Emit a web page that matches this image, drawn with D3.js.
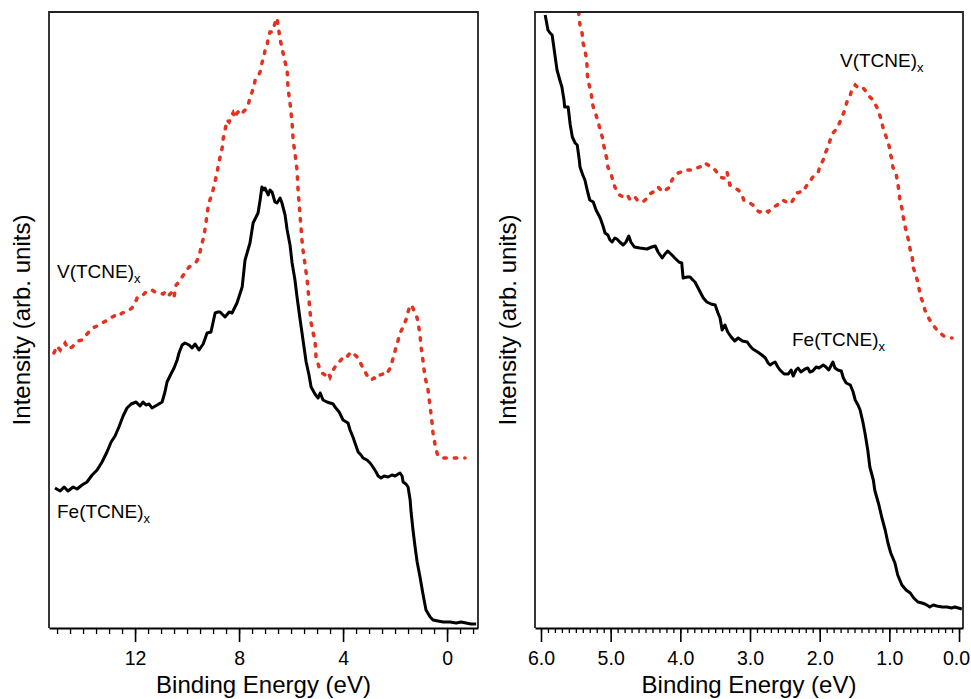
<!DOCTYPE html>
<html>
<head>
<meta charset="utf-8">
<script src="https://cdn.jsdelivr.net/npm/d3@7"></script>
<style>
  body { margin: 0; background: #fff; }
  svg text { font-family: "Liberation Sans", Arial, sans-serif; fill: #000; }
</style>
</head>
<body>
<div id="chart"></div>
<script>
// ---- data: [binding energy (eV), intensity (arb. units)] ----

// left panel, wide scan
var feWide = [[15.08,140],[14.88,137],[14.73,141],[14.58,137],[14.38,141],[14.23,139],[14.04,143],[13.85,146],[13.65,153],[13.46,158],[13.27,166],[13.08,176],[12.92,186],[12.77,192],[12.62,201],[12.46,212],[12.31,220],[12.15,224],[11.96,226],[11.81,222],[11.69,226],[11.58,223],[11.46,224],[11.35,220],[11.15,223],[10.96,226],[10.85,236],[10.77,246],[10.62,254],[10.5,260],[10.38,268],[10.31,275],[10.19,283],[10.08,285],[9.92,283],[9.81,280],[9.69,284],[9.54,278],[9.38,284],[9.23,295],[9.08,296],[8.92,315],[8.81,316],[8.73,316],[8.54,311],[8.38,316],[8.27,315],[8.08,325],[7.88,341],[7.77,368],[7.58,385],[7.46,405],[7.27,415],[7.19,428],[7.12,441],[7.04,438],[7.0,440],[6.88,433],[6.81,438],[6.73,436],[6.62,426],[6.54,425],[6.42,430],[6.35,425],[6.23,413],[6.15,398],[6.04,383],[5.96,365],[5.85,348],[5.77,331],[5.65,308],[5.54,288],[5.42,266],[5.31,253],[5.23,241],[5.08,234],[4.96,230],[4.88,235],[4.77,228],[4.62,226],[4.5,225],[4.38,224],[4.31,221],[4.15,216],[4.0,208],[3.81,205],[3.73,198],[3.62,191],[3.5,182],[3.42,176],[3.31,173],[3.23,170],[3.08,168],[2.96,165],[2.85,161],[2.73,156],[2.65,152],[2.54,150],[2.42,152],[2.27,151],[2.12,153],[2.0,152],[1.88,154],[1.81,155],[1.73,152],[1.69,146],[1.58,144],[1.5,141],[1.42,128],[1.38,115],[1.31,98],[1.23,81],[1.15,66],[1.04,51],[0.92,33],[0.81,18],[0.65,11],[0.54,8],[0.35,7],[0.15,6],[-0.12,6],[-0.35,5],[-0.54,6],[-0.73,5],[-0.92,4],[-1.12,4]];

var vWide = [[15.12,275],[15.0,282],[14.88,278],[14.81,281],[14.69,285],[14.58,279],[14.42,281],[14.31,284],[14.19,287],[14.04,288],[13.92,292],[13.81,295],[13.65,300],[13.54,301],[13.38,303],[13.27,305],[13.12,307],[13.0,310],[12.88,311],[12.73,313],[12.62,312],[12.5,315],[12.35,316],[12.23,318],[12.12,320],[12.0,325],[11.92,330],[11.85,330],[11.73,332],[11.58,336],[11.46,338],[11.35,338],[11.23,336],[11.08,335],[10.92,334],[10.81,337],[10.69,333],[10.58,336],[10.5,331],[10.42,343],[10.31,346],[10.19,351],[10.04,357],[9.92,361],[9.81,363],[9.65,366],[9.54,371],[9.46,381],[9.35,392],[9.27,406],[9.19,421],[9.12,428],[9.0,438],[8.92,447],[8.85,455],[8.77,466],[8.73,471],[8.65,480],[8.62,488],[8.54,498],[8.46,508],[8.38,506],[8.31,511],[8.23,515],[8.15,510],[8.08,515],[7.96,518],[7.88,515],[7.77,518],[7.65,523],[7.58,530],[7.5,536],[7.42,543],[7.38,548],[7.27,552],[7.19,556],[7.12,565],[7.04,572],[7.0,578],[6.92,583],[6.88,590],[6.81,596],[6.73,596],[6.65,602],[6.58,608],[6.54,610],[6.5,603],[6.42,588],[6.35,581],[6.31,575],[6.23,566],[6.15,558],[6.12,541],[6.04,525],[5.96,505],[5.92,488],[5.85,475],[5.77,458],[5.73,438],[5.65,411],[5.58,388],[5.54,378],[5.46,363],[5.38,348],[5.31,328],[5.23,305],[5.15,295],[5.08,288],[5.04,271],[4.96,264],[4.88,258],[4.81,255],[4.69,253],[4.58,256],[4.5,251],[4.38,258],[4.31,261],[4.19,265],[4.08,268],[3.96,272],[3.85,271],[3.73,275],[3.62,272],[3.54,273],[3.42,270],[3.35,266],[3.23,260],[3.15,256],[3.04,251],[2.92,248],[2.81,250],[2.69,249],[2.58,253],[2.46,254],[2.35,253],[2.23,258],[2.15,263],[2.04,273],[1.96,281],[1.88,288],[1.81,295],[1.69,301],[1.58,308],[1.5,316],[1.42,323],[1.35,322],[1.23,315],[1.15,310],[1.12,306],[1.04,293],[1.0,281],[0.92,266],[0.85,251],[0.77,243],[0.73,238],[0.65,221],[0.58,206],[0.54,195],[0.46,183],[0.42,178],[0.35,172],[0.15,170],[-0.04,170],[-0.23,170],[-0.42,170],[-0.62,170],[-0.69,170]];

// right panel, valence region
var feValence = [[5.94,613],[5.9,598],[5.87,595],[5.84,593],[5.8,573],[5.77,558],[5.73,548],[5.7,541],[5.67,528],[5.66,521],[5.61,521],[5.58,503],[5.55,491],[5.51,485],[5.48,483],[5.45,468],[5.44,461],[5.4,453],[5.37,448],[5.33,436],[5.3,428],[5.25,426],[5.21,418],[5.15,410],[5.11,402],[5.08,395],[5.04,393],[5.01,388],[4.98,386],[4.94,390],[4.91,389],[4.87,386],[4.82,383],[4.78,386],[4.74,392],[4.71,386],[4.66,381],[4.58,380],[4.48,379],[4.41,381],[4.36,382],[4.32,376],[4.26,370],[4.22,374],[4.18,377],[4.12,373],[4.08,370],[4.02,366],[3.98,365],[3.96,350],[3.9,351],[3.86,351],[3.82,348],[3.79,346],[3.73,338],[3.67,330],[3.62,326],[3.56,324],[3.5,323],[3.46,315],[3.43,310],[3.4,298],[3.36,303],[3.32,296],[3.27,291],[3.22,287],[3.17,290],[3.11,287],[3.04,286],[3.0,282],[2.96,279],[2.89,276],[2.83,273],[2.78,270],[2.74,265],[2.71,263],[2.67,265],[2.64,266],[2.6,261],[2.57,258],[2.51,254],[2.45,254],[2.41,258],[2.38,252],[2.34,258],[2.31,260],[2.27,256],[2.21,259],[2.17,260],[2.14,256],[2.1,257],[2.05,261],[2.01,260],[1.95,263],[1.91,261],[1.87,258],[1.84,262],[1.81,266],[1.78,260],[1.74,258],[1.69,257],[1.66,250],[1.62,245],[1.56,243],[1.52,236],[1.49,228],[1.45,223],[1.42,218],[1.38,206],[1.35,195],[1.31,178],[1.28,161],[1.23,148],[1.21,138],[1.15,123],[1.11,111],[1.06,98],[1.02,85],[0.98,75],[0.92,65],[0.88,53],[0.82,43],[0.76,38],[0.7,35],[0.65,30],[0.59,26],[0.53,25],[0.49,24],[0.44,22],[0.42,21],[0.37,23],[0.32,22],[0.24,21],[0.17,21],[0.11,20],[0.06,21],[0.01,20],[-0.04,19]];

var vValence = [[5.46,616],[5.44,603],[5.41,595],[5.4,586],[5.37,578],[5.35,570],[5.34,563],[5.33,548],[5.3,541],[5.28,536],[5.27,528],[5.25,521],[5.21,513],[5.18,506],[5.15,498],[5.12,491],[5.1,483],[5.08,476],[5.05,468],[5.04,461],[4.99,453],[4.97,448],[4.94,441],[4.89,435],[4.87,433],[4.82,431],[4.76,433],[4.72,428],[4.68,430],[4.65,431],[4.61,427],[4.54,426],[4.49,429],[4.46,431],[4.44,434],[4.39,436],[4.35,439],[4.32,441],[4.28,438],[4.25,436],[4.21,438],[4.15,441],[4.12,448],[4.09,451],[4.03,455],[3.99,456],[3.96,456],[3.92,458],[3.86,458],[3.82,458],[3.76,460],[3.72,461],[3.67,463],[3.65,465],[3.6,463],[3.57,461],[3.53,460],[3.5,458],[3.46,454],[3.43,451],[3.39,450],[3.36,450],[3.33,456],[3.32,453],[3.29,443],[3.24,441],[3.22,440],[3.17,438],[3.14,436],[3.11,432],[3.09,428],[3.04,426],[3.0,425],[2.96,423],[2.93,420],[2.89,417],[2.86,416],[2.81,418],[2.78,418],[2.74,416],[2.71,418],[2.66,421],[2.61,423],[2.57,426],[2.53,428],[2.48,426],[2.44,424],[2.4,426],[2.35,432],[2.33,435],[2.28,436],[2.24,436],[2.21,440],[2.18,443],[2.14,446],[2.11,450],[2.07,453],[2.02,456],[2.0,461],[1.95,468],[1.92,475],[1.88,481],[1.85,488],[1.81,495],[1.77,498],[1.74,501],[1.71,506],[1.68,511],[1.64,518],[1.61,526],[1.56,533],[1.54,538],[1.49,543],[1.46,541],[1.42,540],[1.39,541],[1.35,538],[1.32,535],[1.28,531],[1.23,528],[1.21,525],[1.16,518],[1.13,511],[1.11,506],[1.09,500],[1.06,494],[1.03,488],[1.0,481],[0.99,475],[0.96,468],[0.95,461],[0.9,453],[0.88,445],[0.86,436],[0.85,428],[0.82,420],[0.8,411],[0.78,403],[0.75,395],[0.72,386],[0.7,378],[0.67,370],[0.66,361],[0.63,355],[0.6,348],[0.57,338],[0.55,331],[0.52,326],[0.49,318],[0.46,313],[0.42,308],[0.37,303],[0.34,300],[0.3,297],[0.27,295],[0.22,292],[0.17,291],[0.13,290],[0.1,290]];

// axis ticks
var wideMajor = [12, 8, 4, 0];
var valenceMajor = [6, 5, 4, 3, 2, 1, 0];

var W = 971, H = 699;
var plotTop = 12, plotBottom = 628;
var red = "#e5321f";

var svg = d3.select("#chart").append("svg")
    .attr("width", W)
    .attr("height", H);

// one panel = frame, bottom axis, curves, labels
function drawPanel(p) {
    var x = d3.scaleLinear().domain(p.xDomain).range([p.left, p.right]);
    var y = d3.scaleLinear().domain([0, 616]).range([plotBottom, plotTop]);

    var g = svg.append("g");

    g.append("clipPath").attr("id", p.id + "-clip")
      .append("rect")
        .attr("x", p.left).attr("y", plotTop)
        .attr("width", p.right - p.left).attr("height", plotBottom - plotTop);

    var line = d3.line()
        .x(function(d) { return x(d[0]); })
        .y(function(d) { return y(d[1]); });

    var curves = g.append("g").attr("clip-path", "url(#" + p.id + "-clip)");

    curves.append("path")
        .datum(p.v)
        .attr("d", line)
        .attr("fill", "none")
        .attr("stroke", red)
        .attr("stroke-width", 3.5)
        .attr("stroke-linecap", "round")
        .attr("stroke-dasharray", "2.5,8");

    curves.append("path")
        .datum(p.fe)
        .attr("d", line)
        .attr("fill", "none")
        .attr("stroke", "#000")
        .attr("stroke-width", 3)
        .attr("stroke-linejoin", "round");

    // frame (top, left, right)
    g.append("path")
        .attr("d", "M" + p.left + "," + plotBottom + "V" + plotTop + "H" + p.right + "V" + plotBottom)
        .attr("fill", "none")
        .attr("stroke", "#222")
        .attr("stroke-width", 1.8);

    // minor ticks
    g.append("g")
        .attr("transform", "translate(0," + plotBottom + ")")
        .call(d3.axisBottom(x).tickValues(p.minor).tickSize(p.minorSize).tickFormat(""))
        .call(function(a) {
            a.select(".domain").remove();
            a.selectAll("line").attr("stroke-width", 1.3);
        });

    // major ticks + labels
    g.append("g")
        .attr("transform", "translate(0," + plotBottom + ")")
        .call(d3.axisBottom(x).tickValues(p.major).tickSize(14).tickSizeOuter(0)
              .tickPadding(9).tickFormat(p.fmt))
        .call(function(a) {
            a.select(".domain").attr("stroke-width", 2.2);
            a.selectAll("line").attr("stroke-width", 1.6);
            a.selectAll("text")
                .attr("font-size", 19.5)
                .attr("font-family", "Liberation Sans, Arial, sans-serif")
                .attr("fill", "#000")
                .attr("dx", function(d) { return d === 0 && p.id === "valence" ? -3 : 0; });
        });

    g.append("text")
        .attr("x", (p.left + p.right) / 2)
        .attr("y", 693)
        .attr("text-anchor", "middle")
        .attr("font-size", 24)
        .text("Binding Energy (eV)");

    g.append("text")
        .attr("transform", "translate(" + (p.left - 19) + "," + ((plotTop + plotBottom) / 2) + ") rotate(-90)")
        .attr("text-anchor", "middle")
        .attr("font-size", 24)
        .text("Intensity (arb. units)");

    p.labels.forEach(function(l) {
        var t = g.append("text")
            .attr("x", l.x).attr("y", l.y)
            .attr("font-size", 19)
            .text(l.name);
        t.append("tspan")
            .attr("font-size", 13)
            .attr("dy", 5)
            .text("x");
    });
}

drawPanel({
    id: "wide",
    left: 49, right: 478,
    xDomain: [15.31, -1.19],
    fe: feWide, v: vWide,
    major: wideMajor,
    minor: d3.range(15, -1.01, -0.5),
    minorSize: 6,
    fmt: d3.format("d"),
    labels: [
        { name: "V(TCNE)", x: 57, y: 278 },
        { name: "Fe(TCNE)", x: 57, y: 518 }
    ]
});

drawPanel({
    id: "valence",
    left: 535, right: 963,
    xDomain: [6.086, -0.057],
    fe: feValence, v: vValence,
    major: valenceMajor,
    minor: d3.range(60, -1, -1).map(function(d) { return d / 10; }),
    minorSize: 5,
    fmt: d3.format(".1f"),
    labels: [
        { name: "V(TCNE)", x: 840, y: 67 },
        { name: "Fe(TCNE)", x: 792, y: 346 }
    ]
});
</script>
</body>
</html>
